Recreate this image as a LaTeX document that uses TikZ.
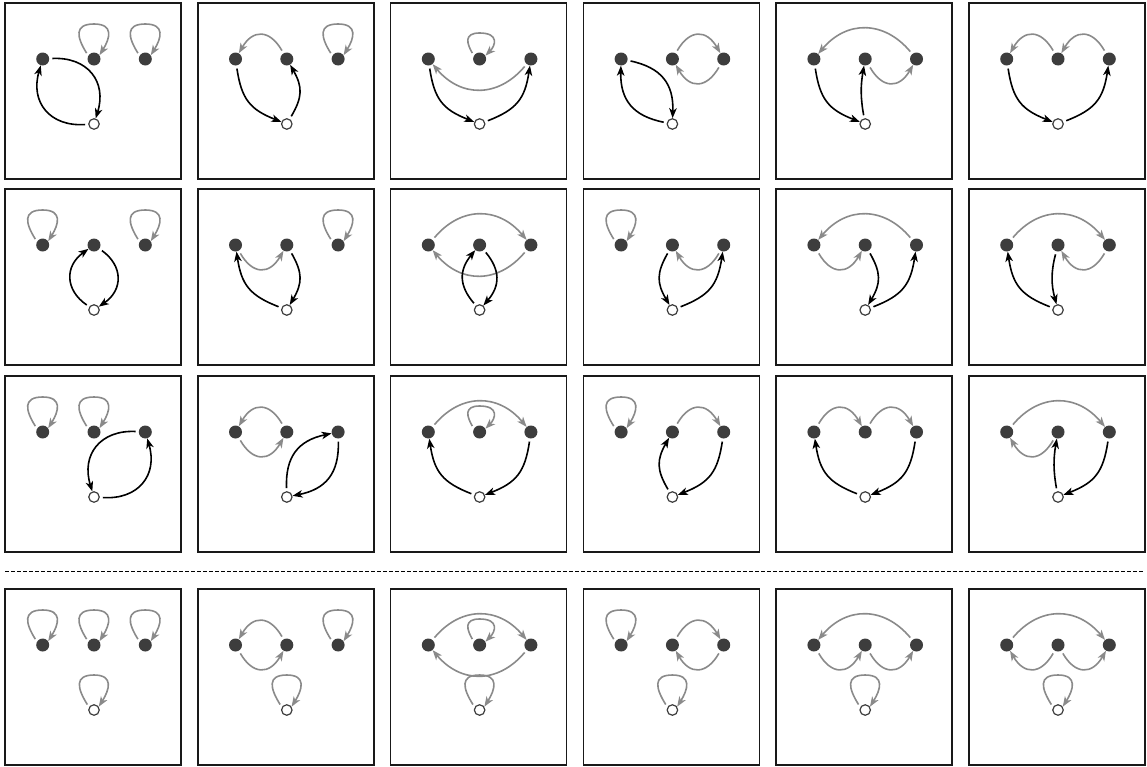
\documentclass[tikz,border=0pt]{standalone}
\usetikzlibrary{arrows.meta}
\definecolor{cDot}  {RGB}{61,61,61}
\definecolor{cGray} {RGB}{138,138,138}
\definecolor{cFrame}{RGB}{25,25,25}

\begin{document}
\begin{tikzpicture}[
    x=1pt, y=1pt,
    panel/.style={rectangle, draw=cFrame, line width=1.6pt, minimum size=176pt,
                  inner sep=0pt},
    dot/.style={circle, fill=cDot, inner sep=0pt, minimum size=13pt},
    hole/.style={circle, draw=cDot, fill=white, line width=1.2pt, inner sep=0pt,
                 minimum size=10.5pt},
    blk/.style={draw=black, line width=1.6pt, shorten <=3pt,
                -{Stealth[length=10pt,width=7.5pt,inset=2.8pt]}},
    gry/.style={blk, draw=cGray},
    % self loop: up the left side, round top, down into the upper right
    sloop/.style={gry, to path={(\tikztostart.150) .. controls +(122:22) and +(180:20)
        .. ([yshift=35pt]\tikztostart.center) .. controls +(0:20) and +(58:20)
        .. (\tikztotarget.35)}},
    % flatter loop that sits under a long arc
    lowloop/.style={gry, to path={(\tikztostart.150) .. controls +(120:14) and +(180:16)
        .. ([yshift=26pt]\tikztostart.center) .. controls +(0:20) and +(45:14)
        .. (\tikztotarget.30)}},
    % bend presets: wide / narrow two-way pair, cycle edge,
    % short gray arc between neighbours, long gray arc over the middle dot
    duo/.style={bend #1=55, looseness=1.3},
    lens/.style={bend #1=40, looseness=1.2},
    cyc/.style={bend #1=30, looseness=1.2},
    hop/.style={bend #1=60, looseness=1.6},
    leap/.style={bend #1=50, looseness=1.2},
]
\useasboundingbox (0,0) rectangle (1147,-766);

% --- 4 x 6 panels, each with three filled dots and one open circle
\foreach \r/\py in {1/3,2/189,3/376,4/589}
  \foreach \c in {1,...,6} {
    \pgfmathsetmacro\px{5+192.8*(\c-1)}
    \node[panel] (p\r\c) at (\px+88,-\py-88) {};
    \node[dot]  (a\r\c) at (\px+37.7,-\py-56) {};
    \node[dot]  (b\r\c) at (\px+89,-\py-56) {};
    \node[dot]  (c\r\c) at (\px+140.3,-\py-56) {};
    \node[hole] (o\r\c) at (\px+89,-\py-121) {};
  }

% --- separator
\draw[line width=0.8pt, dash pattern=on 3.5pt off 2.5pt] (5,-571) -- (1143,-571);

% --- row 1
\draw[sloop] (b11) to (b11);
\draw[sloop] (c11) to (c11);
\draw[blk] (a11) to[duo=left] (o11);
\draw[blk] (o11) to[duo=left] (a11);

\draw[sloop] (c12) to (c12);
\draw[gry] (b12) to[hop=right] (a12);
\draw[blk] (a12) to[cyc=right] (o12);
\draw[blk] (o12) to[cyc=right] (b12);

\draw[lowloop] (b13) to (b13);
\draw[gry] (c13) to[leap=left] (a13);
\draw[blk] (a13) to[cyc=right] (o13);
\draw[blk] (o13) to[cyc=right] (c13);

\draw[blk] (a14) to[lens=left] (o14);
\draw[blk] (o14) to[lens=left] (a14);
\draw[gry] (b14) to[hop=left] (c14);
\draw[gry] (c14) to[hop=left] (b14);

\draw[gry] (c15) to[leap=right] (a15);
\draw[gry] (b15) to[hop=right] (c15);
\draw[blk] (a15) to[cyc=right] (o15);
\draw[blk] (o15) to[bend left=10] (b15);

\draw[gry] (b16) to[hop=right] (a16);
\draw[gry] (c16) to[hop=right] (b16);
\draw[blk] (a16) to[cyc=right] (o16);
\draw[blk] (o16) to[cyc=right] (c16);

% --- row 2
\draw[sloop] (a21) to (a21);
\draw[sloop] (c21) to (c21);
\draw[blk] (o21) to[duo=left] (b21);
\draw[blk] (b21) to[duo=left] (o21);

\draw[sloop] (c22) to (c22);
\draw[gry] (a22) to[hop=right] (b22);
\draw[blk] (b22) to[cyc=left] (o22);
\draw[blk] (o22) to[cyc=left] (a22);

\draw[gry] (a23) to[leap=left] (c23);
\draw[gry] (c23) to[leap=left] (a23);
\draw[blk] (o23) to[lens=left] (b23);
\draw[blk] (b23) to[lens=left] (o23);

\draw[sloop] (a24) to (a24);
\draw[gry] (c24) to[hop=left] (b24);
\draw[blk] (b24) to[cyc=right] (o24);
\draw[blk] (o24) to[cyc=right] (c24);

\draw[gry] (c25) to[leap=right] (a25);
\draw[gry] (a25) to[hop=right] (b25);
\draw[blk] (b25) to[cyc=left] (o25);
\draw[blk] (o25) to[cyc=right] (c25);

\draw[gry] (a26) to[leap=left] (c26);
\draw[gry] (c26) to[hop=left] (b26);
\draw[blk] (b26) to[bend right=15] (o26);
\draw[blk] (o26) to[cyc=left] (a26);

% --- row 3
\draw[sloop] (a31) to (a31);
\draw[sloop] (b31) to (b31);
\draw[blk] (c31) to[duo=right] (o31);
\draw[blk] (o31) to[duo=right] (c31);

\draw[gry] (b32) to[hop=right] (a32);
\draw[gry] (a32) to[hop=right] (b32);
\draw[blk] (o32) to[lens=left] (c32);
\draw[blk] (c32) to[lens=left] (o32);

\draw[lowloop] (b33) to (b33);
\draw[gry] (a33) to[leap=left] (c33);
\draw[blk] (o33) to[cyc=left] (a33);
\draw[blk] (c33) to[cyc=left] (o33);

\draw[sloop] (a34) to (a34);
\draw[gry] (b34) to[hop=left] (c34);
\draw[blk] (o34) to[cyc=left] (b34);
\draw[blk] (c34) to[cyc=left] (o34);

\draw[gry] (a35) to[hop=left] (b35);
\draw[gry] (b35) to[hop=left] (c35);
\draw[blk] (o35) to[cyc=left] (a35);
\draw[blk] (c35) to[cyc=left] (o35);

\draw[gry] (a36) to[leap=left] (c36);
\draw[gry] (b36) to[hop=left] (a36);
\draw[blk] (o36) to[bend left=10] (b36);
\draw[blk] (c36) to[cyc=left] (o36);

% --- row 4 (every open circle loops on itself)
\foreach \c in {1,...,6}
  \draw[sloop] (o4\c) to (o4\c);
\draw[sloop] (a41) to (a41);
\draw[sloop] (b41) to (b41);
\draw[sloop] (c41) to (c41);

\draw[sloop] (c42) to (c42);
\draw[gry] (b42) to[hop=right] (a42);
\draw[gry] (a42) to[hop=right] (b42);

\draw[lowloop] (b43) to (b43);
\draw[gry] (a43) to[leap=left] (c43);
\draw[gry] (c43) to[leap=left] (a43);

\draw[sloop] (a44) to (a44);
\draw[gry] (b44) to[hop=left] (c44);
\draw[gry] (c44) to[hop=left] (b44);

\draw[gry] (c45) to[leap=right] (a45);
\draw[gry] (a45) to[hop=right] (b45);
\draw[gry] (b45) to[hop=right] (c45);

\draw[gry] (a46) to[leap=left] (c46);
\draw[gry] (b46) to[hop=left] (a46);
\draw[gry] (b46) to[hop=right] (c46);
\end{tikzpicture}
\end{document}
